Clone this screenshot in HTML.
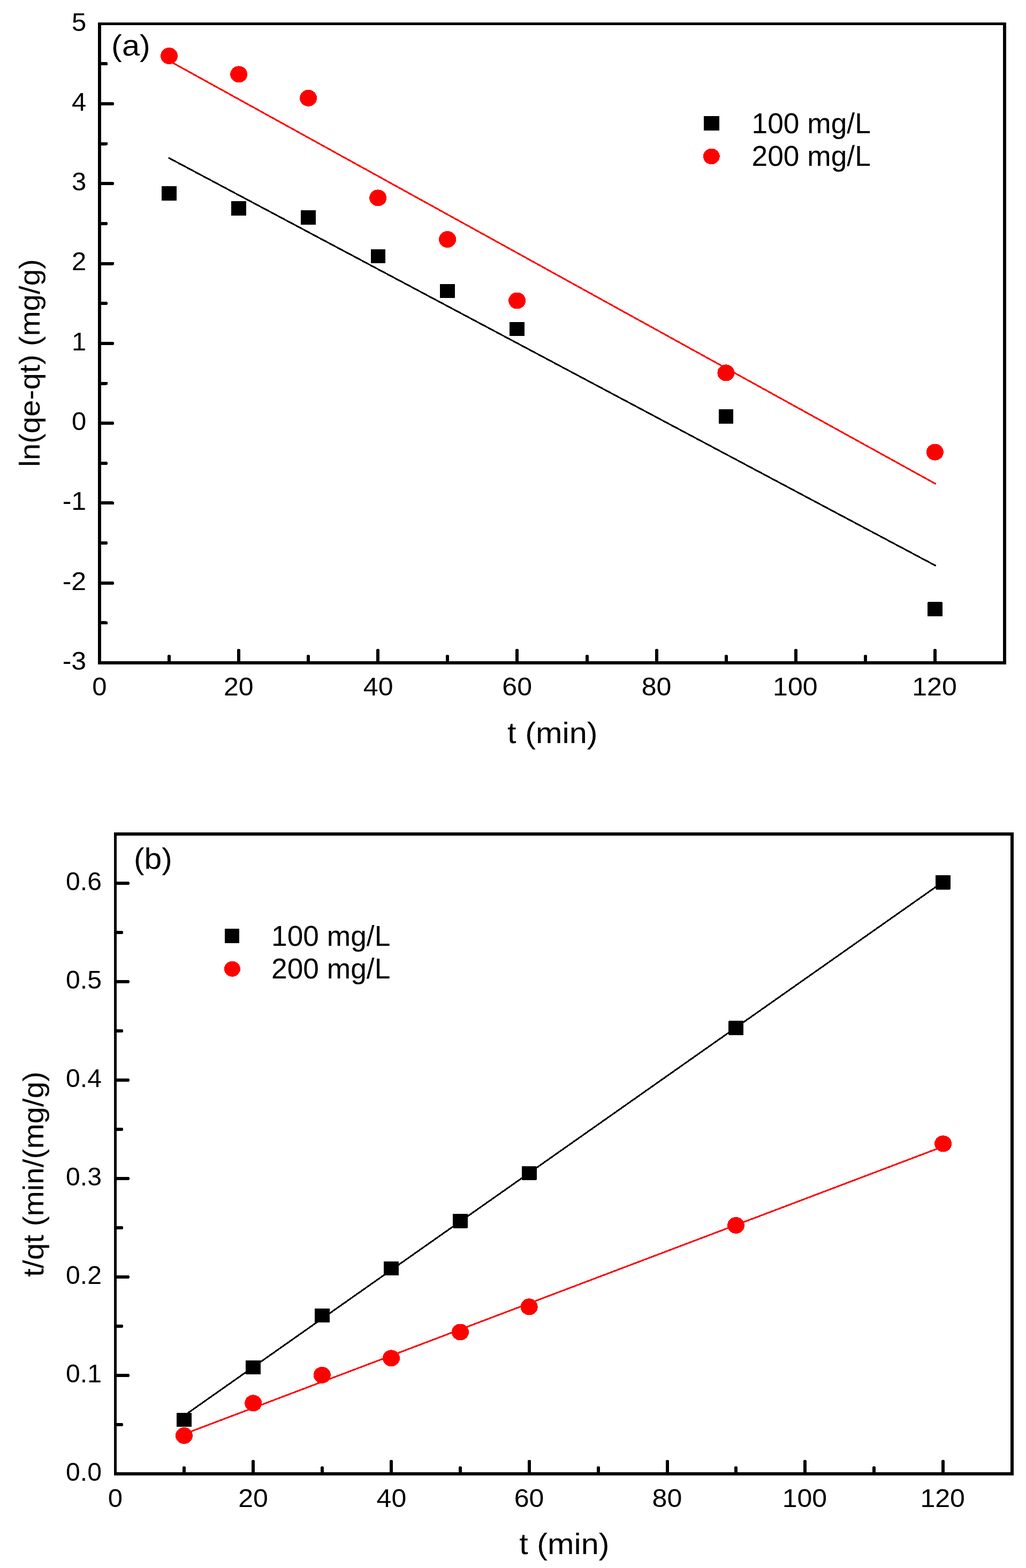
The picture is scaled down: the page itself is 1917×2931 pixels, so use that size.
<!DOCTYPE html>
<html lang="en">
<head>
<meta charset="utf-8">
<title>Kinetic plots</title>
<style>
html, body { margin: 0; padding: 0; background: #fff; }
body { width: 1917px; height: 2931px; overflow: hidden; }
svg { display: block; }
svg text { font-family: "Liberation Sans", Arial, Helvetica, sans-serif; fill: #000; }
</style>
</head>
<body>
<svg width="1917" height="2931" viewBox="0 0 1917 2931">
<rect x="0" y="0" width="1917" height="2931" fill="#fff"/>
<g id="plot-a" shape-rendering="crispEdges">
<line x1="316.00" y1="295.50" x2="1747.30" y2="1057.00" stroke="#000" stroke-width="3.0" stroke-linecap="round"/>
<line x1="316.00" y1="113.70" x2="1747.60" y2="904.20" stroke="#f00" stroke-width="3.0" stroke-linecap="round"/>
<rect x="302.20" y="348.20" width="27.60" height="26.60" rx="0.8" fill="#000"/>
<rect x="432.30" y="376.20" width="27.60" height="26.60" rx="0.8" fill="#000"/>
<rect x="562.30" y="393.30" width="27.60" height="26.60" rx="0.8" fill="#000"/>
<rect x="692.50" y="465.60" width="27.60" height="26.60" rx="0.8" fill="#000"/>
<rect x="822.30" y="530.60" width="27.60" height="26.60" rx="0.8" fill="#000"/>
<rect x="952.30" y="601.80" width="27.60" height="26.60" rx="0.8" fill="#000"/>
<rect x="1342.50" y="765.10" width="27.60" height="26.60" rx="0.8" fill="#000"/>
<rect x="1733.20" y="1125.40" width="27.60" height="26.60" rx="0.8" fill="#000"/>
<ellipse cx="316.00" cy="104.50" rx="16.00" ry="15.50" fill="#f00"/>
<ellipse cx="446.20" cy="138.90" rx="16.00" ry="15.50" fill="#f00"/>
<ellipse cx="576.10" cy="183.30" rx="16.00" ry="15.50" fill="#f00"/>
<ellipse cx="706.20" cy="369.90" rx="16.00" ry="15.50" fill="#f00"/>
<ellipse cx="836.10" cy="447.50" rx="16.00" ry="15.50" fill="#f00"/>
<ellipse cx="966.10" cy="562.00" rx="16.00" ry="15.50" fill="#f00"/>
<ellipse cx="1356.40" cy="696.90" rx="16.00" ry="15.50" fill="#f00"/>
<ellipse cx="1746.90" cy="845.10" rx="16.00" ry="15.50" fill="#f00"/>
<rect x="183.00" y="42.00" width="6.00" height="1200.00" fill="#000"/>
<rect x="1874.00" y="42.00" width="6.00" height="1200.00" fill="#000"/>
<rect x="183.00" y="42.00" width="1697.00" height="5.00" fill="#000"/>
<rect x="183.00" y="1236.00" width="1697.00" height="6.00" fill="#000"/>
<rect x="443.00" y="1213.00" width="6.00" height="26.00" rx="2.2" fill="#000"/>
<rect x="703.00" y="1213.00" width="6.00" height="26.00" rx="2.2" fill="#000"/>
<rect x="963.00" y="1213.00" width="6.00" height="26.00" rx="2.2" fill="#000"/>
<rect x="1224.00" y="1213.00" width="6.00" height="26.00" rx="2.2" fill="#000"/>
<rect x="1484.00" y="1213.00" width="6.00" height="26.00" rx="2.2" fill="#000"/>
<rect x="1744.00" y="1213.00" width="6.00" height="26.00" rx="2.2" fill="#000"/>
<rect x="313.00" y="1224.00" width="6.00" height="15.00" rx="2.2" fill="#000"/>
<rect x="573.00" y="1224.00" width="6.00" height="15.00" rx="2.2" fill="#000"/>
<rect x="833.00" y="1224.00" width="6.00" height="15.00" rx="2.2" fill="#000"/>
<rect x="1094.00" y="1224.00" width="6.00" height="15.00" rx="2.2" fill="#000"/>
<rect x="1354.00" y="1224.00" width="6.00" height="15.00" rx="2.2" fill="#000"/>
<rect x="1614.00" y="1224.00" width="6.00" height="15.00" rx="2.2" fill="#000"/>
<rect x="186.00" y="1086.79" width="27.00" height="6.00" rx="2.2" fill="#000"/>
<rect x="186.00" y="937.48" width="27.00" height="6.00" rx="2.2" fill="#000"/>
<rect x="186.00" y="788.16" width="27.00" height="6.00" rx="2.2" fill="#000"/>
<rect x="186.00" y="638.85" width="27.00" height="6.00" rx="2.2" fill="#000"/>
<rect x="186.00" y="489.54" width="27.00" height="6.00" rx="2.2" fill="#000"/>
<rect x="186.00" y="340.23" width="27.00" height="6.00" rx="2.2" fill="#000"/>
<rect x="186.00" y="190.91" width="27.00" height="6.00" rx="2.2" fill="#000"/>
<rect x="186.00" y="1161.44" width="15.00" height="6.00" rx="2.2" fill="#000"/>
<rect x="186.00" y="1012.13" width="15.00" height="6.00" rx="2.2" fill="#000"/>
<rect x="186.00" y="862.82" width="15.00" height="6.00" rx="2.2" fill="#000"/>
<rect x="186.00" y="713.51" width="15.00" height="6.00" rx="2.2" fill="#000"/>
<rect x="186.00" y="564.19" width="15.00" height="6.00" rx="2.2" fill="#000"/>
<rect x="186.00" y="414.88" width="15.00" height="6.00" rx="2.2" fill="#000"/>
<rect x="186.00" y="265.57" width="15.00" height="6.00" rx="2.2" fill="#000"/>
<rect x="186.00" y="116.26" width="15.00" height="6.00" rx="2.2" fill="#000"/>
<text transform="translate(172.37 1299.50) scale(1.0300 1)" font-size="47.6">0</text>
<text transform="translate(418.02 1299.50) scale(1.0520 1)" font-size="47.6">20</text>
<text transform="translate(678.86 1299.50) scale(1.0520 1)" font-size="47.6">40</text>
<text transform="translate(938.32 1299.50) scale(1.0520 1)" font-size="47.6">60</text>
<text transform="translate(1198.66 1299.50) scale(1.0520 1)" font-size="47.6">80</text>
<text transform="translate(1444.07 1299.50) scale(1.0520 1)" font-size="47.6">100</text>
<text transform="translate(1704.22 1299.50) scale(1.0520 1)" font-size="47.6">120</text>
<text transform="translate(161.20 1252.00) scale(1.0520 1)" text-anchor="end" font-size="47.6">-3</text>
<text transform="translate(161.20 1102.69) scale(1.0520 1)" text-anchor="end" font-size="47.6">-2</text>
<text transform="translate(161.20 953.38) scale(1.0520 1)" text-anchor="end" font-size="47.6">-1</text>
<text transform="translate(161.20 804.06) scale(1.0300 1)" text-anchor="end" font-size="47.6">0</text>
<text transform="translate(161.20 654.75) scale(1.0300 1)" text-anchor="end" font-size="47.6">1</text>
<text transform="translate(161.20 505.44) scale(1.0300 1)" text-anchor="end" font-size="47.6">2</text>
<text transform="translate(161.20 356.12) scale(1.0300 1)" text-anchor="end" font-size="47.6">3</text>
<text transform="translate(161.20 206.81) scale(1.0300 1)" text-anchor="end" font-size="47.6">4</text>
<text transform="translate(161.20 57.50) scale(1.0300 1)" text-anchor="end" font-size="47.6">5</text>
<text transform="translate(948.10 1388.80) scale(1.0820 1)" font-size="55.0">t (min)</text>
<text transform="translate(74.00 872.80) rotate(-90) scale(1.0446 1)" font-size="54.0">ln(qe-qt) (mg/g)</text>
<text transform="translate(208.10 103.70) scale(1.0594 1)" font-size="56.3">(a)</text>
<rect x="1315.10" y="216.70" width="29.00" height="27.00" rx="0.8" fill="#000"/>
<ellipse cx="1329.30" cy="292.40" rx="15.40" ry="14.80" fill="#f00"/>
<text transform="translate(1404.50 249.30) scale(0.9970 1)" text-anchor="start" font-size="53.5">100 mg/L</text>
<text transform="translate(1404.50 309.90) scale(0.9970 1)" text-anchor="start" font-size="53.5">200 mg/L</text>
</g>
<g id="plot-b" shape-rendering="crispEdges">
<line x1="344.40" y1="2646.00" x2="1762.00" y2="1648.40" stroke="#000" stroke-width="3.0" stroke-linecap="round"/>
<line x1="344.40" y1="2680.50" x2="1762.00" y2="2143.20" stroke="#f00" stroke-width="3.0" stroke-linecap="round"/>
<rect x="330.40" y="2640.90" width="27.60" height="26.40" rx="0.8" fill="#000"/>
<rect x="459.40" y="2542.70" width="27.60" height="26.40" rx="0.8" fill="#000"/>
<rect x="588.00" y="2445.80" width="27.60" height="26.40" rx="0.8" fill="#000"/>
<rect x="717.40" y="2357.50" width="27.60" height="26.40" rx="0.8" fill="#000"/>
<rect x="846.10" y="2269.20" width="27.60" height="26.40" rx="0.8" fill="#000"/>
<rect x="974.90" y="2179.80" width="27.60" height="26.40" rx="0.8" fill="#000"/>
<rect x="1361.40" y="1908.30" width="27.60" height="26.40" rx="0.8" fill="#000"/>
<rect x="1748.20" y="1636.20" width="27.60" height="26.40" rx="0.8" fill="#000"/>
<ellipse cx="343.90" cy="2683.50" rx="16.00" ry="15.50" fill="#f00"/>
<ellipse cx="473.20" cy="2622.80" rx="16.00" ry="15.50" fill="#f00"/>
<ellipse cx="601.80" cy="2570.30" rx="16.00" ry="15.50" fill="#f00"/>
<ellipse cx="731.00" cy="2538.80" rx="16.00" ry="15.50" fill="#f00"/>
<ellipse cx="860.00" cy="2490.00" rx="16.00" ry="15.50" fill="#f00"/>
<ellipse cx="988.70" cy="2442.80" rx="16.00" ry="15.50" fill="#f00"/>
<ellipse cx="1375.10" cy="2290.40" rx="16.00" ry="15.50" fill="#f00"/>
<ellipse cx="1762.10" cy="2137.90" rx="16.00" ry="15.50" fill="#f00"/>
<rect x="213.00" y="1556.00" width="5.00" height="1202.00" fill="#000"/>
<rect x="1888.00" y="1556.00" width="6.00" height="1202.00" fill="#000"/>
<rect x="213.00" y="1556.00" width="1681.00" height="6.00" fill="#000"/>
<rect x="213.00" y="2752.00" width="1681.00" height="6.00" fill="#000"/>
<rect x="470.00" y="2729.00" width="6.00" height="26.00" rx="2.2" fill="#000"/>
<rect x="728.00" y="2729.00" width="6.00" height="26.00" rx="2.2" fill="#000"/>
<rect x="986.00" y="2729.00" width="6.00" height="26.00" rx="2.2" fill="#000"/>
<rect x="1244.00" y="2729.00" width="6.00" height="26.00" rx="2.2" fill="#000"/>
<rect x="1501.00" y="2729.00" width="6.00" height="26.00" rx="2.2" fill="#000"/>
<rect x="1759.00" y="2729.00" width="6.00" height="26.00" rx="2.2" fill="#000"/>
<rect x="341.00" y="2741.00" width="6.00" height="14.00" rx="2.2" fill="#000"/>
<rect x="599.00" y="2741.00" width="6.00" height="14.00" rx="2.2" fill="#000"/>
<rect x="857.00" y="2741.00" width="6.00" height="14.00" rx="2.2" fill="#000"/>
<rect x="1115.00" y="2741.00" width="6.00" height="14.00" rx="2.2" fill="#000"/>
<rect x="1372.00" y="2741.00" width="6.00" height="14.00" rx="2.2" fill="#000"/>
<rect x="1630.00" y="2741.00" width="6.00" height="14.00" rx="2.2" fill="#000"/>
<rect x="215.00" y="2568.00" width="27.00" height="6.00" rx="2.2" fill="#000"/>
<rect x="215.00" y="2384.00" width="27.00" height="6.00" rx="2.2" fill="#000"/>
<rect x="215.00" y="2200.00" width="27.00" height="6.00" rx="2.2" fill="#000"/>
<rect x="215.00" y="2016.00" width="27.00" height="6.00" rx="2.2" fill="#000"/>
<rect x="215.00" y="1832.00" width="27.00" height="6.00" rx="2.2" fill="#000"/>
<rect x="215.00" y="1648.00" width="27.00" height="6.00" rx="2.2" fill="#000"/>
<rect x="215.00" y="2660.00" width="15.00" height="6.00" rx="2.2" fill="#000"/>
<rect x="215.00" y="2476.00" width="15.00" height="6.00" rx="2.2" fill="#000"/>
<rect x="215.00" y="2292.00" width="15.00" height="6.00" rx="2.2" fill="#000"/>
<rect x="215.00" y="2108.00" width="15.00" height="6.00" rx="2.2" fill="#000"/>
<rect x="215.00" y="1924.00" width="15.00" height="6.00" rx="2.2" fill="#000"/>
<rect x="215.00" y="1740.00" width="15.00" height="6.00" rx="2.2" fill="#000"/>
<text transform="translate(201.87 2816.50) scale(1.0300 1)" font-size="47.6">0</text>
<text transform="translate(445.14 2816.50) scale(1.0520 1)" font-size="47.6">20</text>
<text transform="translate(703.59 2816.50) scale(1.0520 1)" font-size="47.6">40</text>
<text transform="translate(960.66 2816.50) scale(1.0520 1)" font-size="47.6">60</text>
<text transform="translate(1218.62 2816.50) scale(1.0520 1)" font-size="47.6">80</text>
<text transform="translate(1461.64 2816.50) scale(1.0520 1)" font-size="47.6">100</text>
<text transform="translate(1719.41 2816.50) scale(1.0520 1)" font-size="47.6">120</text>
<text transform="translate(189.90 2767.80) scale(1.0110 1)" text-anchor="end" font-size="47.6">0.0</text>
<text transform="translate(189.90 2583.80) scale(1.0110 1)" text-anchor="end" font-size="47.6">0.1</text>
<text transform="translate(189.90 2399.80) scale(1.0110 1)" text-anchor="end" font-size="47.6">0.2</text>
<text transform="translate(189.90 2215.80) scale(1.0110 1)" text-anchor="end" font-size="47.6">0.3</text>
<text transform="translate(189.90 2031.80) scale(1.0110 1)" text-anchor="end" font-size="47.6">0.4</text>
<text transform="translate(189.90 1847.80) scale(1.0110 1)" text-anchor="end" font-size="47.6">0.5</text>
<text transform="translate(189.90 1663.80) scale(1.0110 1)" text-anchor="end" font-size="47.6">0.6</text>
<text transform="translate(970.20 2905.40) scale(1.0800 1)" font-size="55.0">t (min)</text>
<text transform="translate(80.80 2386.76) rotate(-90) scale(1.0492 1)" font-size="54.0">t/qt (min/(mg/g)</text>
<text transform="translate(250.06 1624.00) scale(1.0416 1)" font-size="56.3">(b)</text>
<rect x="420.00" y="1735.90" width="27.00" height="27.00" rx="0.8" fill="#000"/>
<ellipse cx="434.00" cy="1811.20" rx="15.00" ry="14.50" fill="#f00"/>
<text transform="translate(507.00 1768.20) scale(0.9970 1)" text-anchor="start" font-size="53.5">100 mg/L</text>
<text transform="translate(507.00 1829.30) scale(0.9970 1)" text-anchor="start" font-size="53.5">200 mg/L</text>
</g>
</svg>
</body>
</html>
